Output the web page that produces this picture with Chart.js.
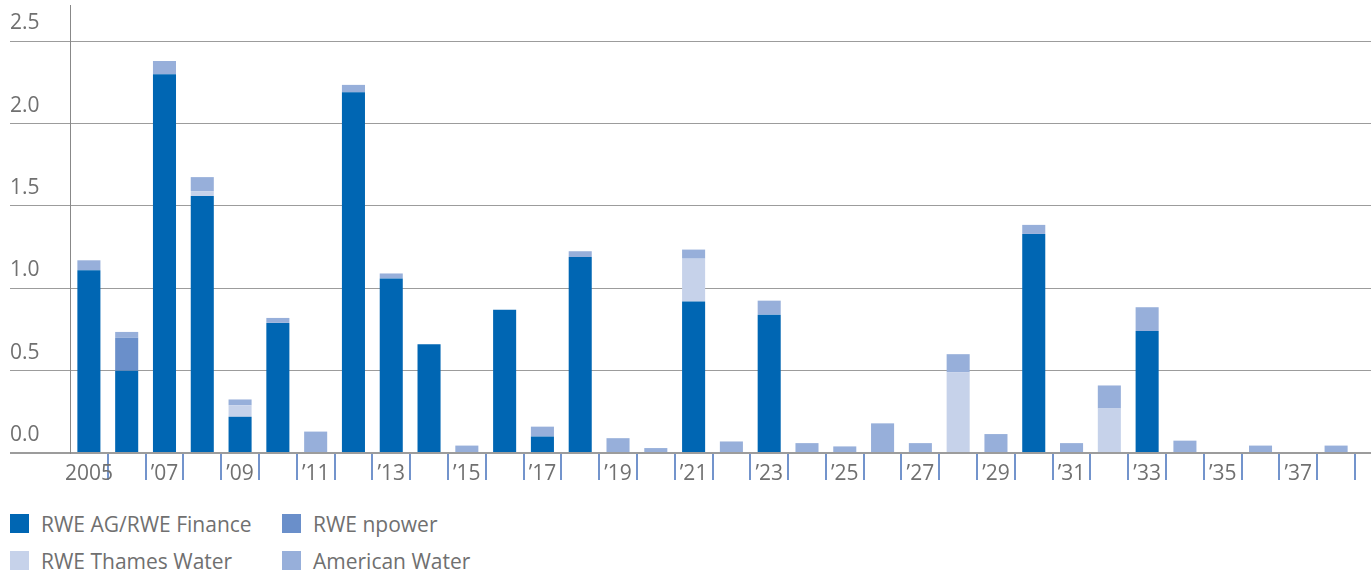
<!DOCTYPE html>
<html>
<head>
<meta charset="utf-8">
<script src="https://cdn.jsdelivr.net/npm/chart.js@4"></script>
<style>
  body { margin: 0; background: #fff; }
  #wrap { position: relative; width: 1371px; height: 577px; }
  #legend { position: absolute; left: 10px; top: 513px; display: grid; grid-template-columns: 272px 272px; row-gap: 16px;
    font-family: "Open Sans", sans-serif; font-size: 21px; color: #707070; }
  #legend div { display: flex; align-items: center; height: 21px; }
  #legend span.box { width: 19px; height: 19px; margin-right: 12px; display: inline-block; }
</style>
</head>
<body>
<div id="wrap">
  <canvas id="chart" width="1371" height="490"></canvas>
  <div id="legend"></div>
</div>
<script>
const years = [2005, 2006, 2007, 2008, 2009, 2010, 2011, 2012, 2013, 2014, 2015, 2016, 2017, 2018, 2019, 2020, 2021,
  2022, 2023, 2024, 2025, 2026, 2027, 2028, 2029, 2030, 2031, 2032, 2033, 2034, 2035, 2036, 2037, 2038];
const tickLabels = ["2005", "", "’07", "", "’09", "", "’11", "", "’13", "", "’15", "", "’17", "", "’19", "", "’21",
  "", "’23", "", "’25", "", "’27", "", "’29", "", "’31", "", "’33", "", "’35", "", "’37", ""];

const rweFinance = [1.11, 0.50, 2.30, 1.56, 0.22, 0.79, 0, 2.19, 1.06, 0.66, 0, 0.87, 0.10, 1.19, 0, 0, 0.92,
  0, 0.84, 0, 0, 0, 0, 0, 0, 1.33, 0, 0, 0.74, 0, 0, 0, 0, 0];
const npower = [0, 0.20, 0, 0, 0, 0, 0, 0, 0, 0, 0, 0, 0, 0, 0, 0, 0,
  0, 0, 0, 0, 0, 0, 0, 0, 0, 0, 0, 0, 0, 0, 0, 0, 0];
const thamesWater = [0, 0, 0, 0.03, 0.07, 0, 0, 0, 0, 0, 0, 0, 0, 0, 0, 0, 0.26,
  0, 0, 0, 0, 0, 0, 0.49, 0, 0, 0, 0.27, 0, 0, 0, 0, 0, 0];
const americanWater = [0.06, 0.035, 0.08, 0.085, 0.035, 0.03, 0.13, 0.045, 0.03, 0, 0.045, 0, 0.06, 0.035, 0.09, 0.03, 0.055,
  0.07, 0.085, 0.06, 0.04, 0.18, 0.06, 0.11, 0.115, 0.055, 0.06, 0.14, 0.145, 0.075, 0, 0.045, 0, 0.045];

const seriesNames = ["RWE AG/RWE Finance", "RWE npower", "RWE Thames Water", "American Water"];
const seriesColors = ["#0066b3", "#6a8fca", "#c6d2ea", "#97afda"];

const gridGray = "#9c9c9c";
const tickBlue = "#7394cc";
const yMax = 2.72;

Chart.defaults.font.family = '"Open Sans", sans-serif';
Chart.defaults.font.size = 21;
Chart.defaults.color = "#707070";

const makeDataset = (data, i) => ({
  label: seriesNames[i],
  data,
  backgroundColor: seriesColors[i],
  borderWidth: 0,
  barPercentage: 0.61,
  categoryPercentage: 1
});

const yGrid = {
  color: gridGray,
  lineWidth: ctx => (ctx.tick && ctx.tick.value === 0 ? 2 : 1),
  drawTicks: true
};

const chart = new Chart("chart", {
  type: "bar",
  data: {
    labels: years,
    datasets: [rweFinance, npower, thamesWater, americanWater].map(makeDataset)
  },
  options: {
    responsive: false,
    animation: false,
    layout: { padding: { left: 10, top: 5, right: 0, bottom: 0 } },
    plugins: { legend: { display: false }, tooltip: { enabled: false } },
    scales: {
      x: {
        stacked: true,
        grid: {
          offset: true,
          drawOnChartArea: false,
          tickLength: 27,
          lineWidth: 2,
          color: ctx => (ctx.index === 0 ? "rgba(0,0,0,0)" : tickBlue)
        },
        border: { display: false },
        ticks: {
          autoSkip: false,
          maxRotation: 0,
          padding: -19,
          callback: (v, i) => tickLabels[i]
        },
        afterFit: scale => { scale.height = 37; }
      },
      y: {
        stacked: true,
        min: 0,
        max: yMax,
        grid: { ...yGrid, tickLength: 60 },
        border: { color: "#888", width: 1 },
        ticks: {
          stepSize: 0.5,
          includeBounds: false,
          crossAlign: "far",
          labelOffset: -18,
          callback: v => v.toFixed(1)
        },
        afterFit: scale => { scale.width = 60; scale.paddingTop = 0; scale.paddingBottom = 0; }
      },
      y2: {
        position: "right",
        min: 0,
        max: yMax,
        grid: { ...yGrid, drawOnChartArea: false, tickLength: 16 },
        border: { display: false },
        ticks: { display: false, stepSize: 0.5, includeBounds: false },
        afterFit: scale => { scale.width = 16; scale.paddingTop = 0; scale.paddingBottom = 0; }
      }
    }
  }
});

// legend in two fixed columns, built from the chart's datasets
const legend = document.getElementById("legend");
chart.data.datasets.forEach(ds => {
  const item = document.createElement("div");
  item.innerHTML = `<span class="box" style="background:${ds.backgroundColor}"></span>${ds.label}`;
  legend.appendChild(item);
});
</script>
</body>
</html>
